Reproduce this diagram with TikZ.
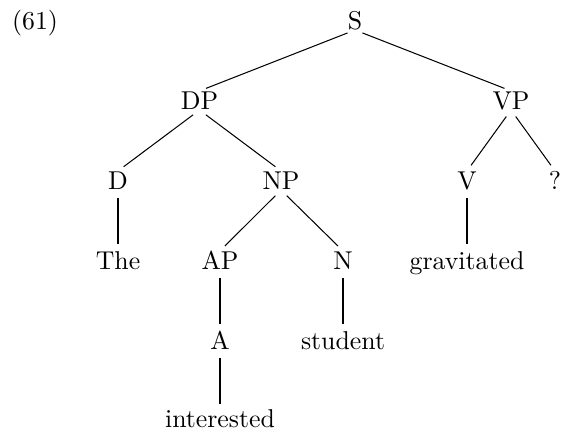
\documentclass[tikz,border=0pt]{standalone}
\begin{document}
\begin{tikzpicture}[x=0.3876pt,y=-0.3876pt,
  tn/.style={inner sep=0pt,text height=7pt,text depth=0pt,anchor=base},
  branch/.style={shorten <=3.1pt,shorten >=2.7pt,line width=0.4pt}]
\useasboundingbox (0,0) rectangle (561,430);
\node[tn] (ex) at (35,29.5) {(61)};
\node[tn] (S) at (355,29.5) {S};
\node[tn] (DP) at (199.5,109.5) {DP};
\node[tn] (VP) at (511,109.5) {VP};
\node[tn] (D) at (118,189.5) {D};
\node[tn] (NP) at (281,189.5) {NP};
\node[tn] (V) at (467,189.5) {V};
\node[tn] (Q) at (555,189.5) {?};
\node[tn] (The) at (118,269.5) {The};
\node[tn] (AP) at (220,269.5) {AP};
\node[tn] (N) at (343,269.5) {N};
\node[tn] (grav) at (467,269.5) {gravitated};
\node[tn] (A) at (220,349.5) {A};
\node[tn] (stu) at (343,349.5) {student};
\node[tn] (int) at (220,427.8) {interested};
\draw[branch] (S.south) -- (DP.north);
\draw[branch] (S.south) -- (VP.north);
\draw[branch] (DP.south) -- (D.north);
\draw[branch] (DP.south) -- (NP.north);
\draw[branch] (VP.south) -- (V.north);
\draw[branch] (VP.south) -- (Q.north);
\draw[branch] (D.south) -- (The.north);
\draw[branch] (NP.south) -- (AP.north);
\draw[branch] (NP.south) -- (N.north);
\draw[branch] (V.south) -- (grav.north);
\draw[branch] (AP.south) -- (A.north);
\draw[branch] (N.south) -- (stu.north);
\draw[branch,shorten >=2.1pt] (A.south) -- (int.north);
\end{tikzpicture}
\end{document}
